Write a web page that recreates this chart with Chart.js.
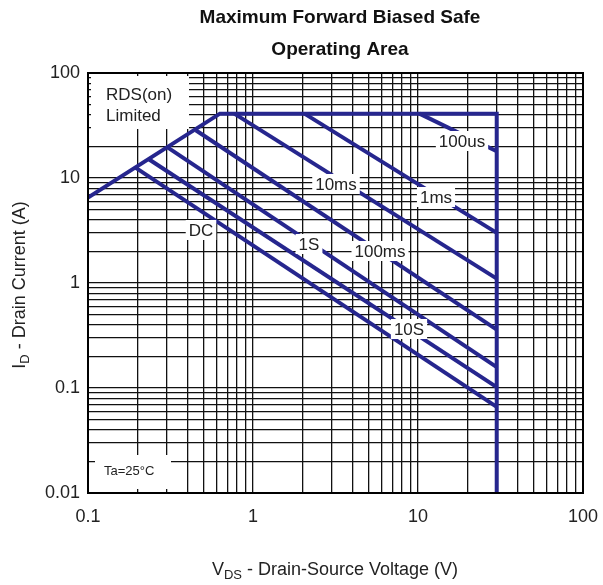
<!DOCTYPE html>
<html>
<head>
<meta charset="utf-8">
<script src="https://cdn.jsdelivr.net/npm/chart.js@4.4.1/dist/chart.umd.min.js"></script>
<style>
  body { margin: 0; background: #fff; }
  #wrap { width: 603px; height: 585px; }
</style>
</head>
<body>
<div id="wrap"><canvas id="chart"></canvas></div>
<script>
// ---- data ----
const xTickValues = [0.1, 1, 10, 100];
const xTickLabels = ["0.1", "1", "10", "100"];
const yTickValues = [0.01, 0.1, 1, 10, 100];
const yTickLabels = ["0.01", "0.1", "1", "10", "100"];
const gridSteps = [1, 2, 3, 4, 5, 6, 7, 8, 9];

// outer limit: RDS(on) slope, current limit, voltage limit
const limitV = [0.1, 0.63, 30, 30];
const limitI = [6.5, 41, 41, 0.01];

// pulse lines
const pulseNames = ["100us", "1ms", "10ms", "100ms", "1S", "10S", "DC"];
const pulseStartV = [10.2, 2.05, 0.77, 0.45, 0.305, 0.235, 0.195];
const pulseStartI = [41, 41, 41, 28.5, 19.5, 15, 12.5];
const pulseEndV = [30, 30, 30, 30, 30, 30, 30];
const pulseEndI = [18, 3.0, 1.1, 0.36, 0.158, 0.102, 0.066];

// where the labels sit (pixels on the page)
const labelX = [462, 436, 336, 380, 309, 409, 201];
const labelY = [141, 197, 184, 251, 244, 329, 230];

const blue = "#26268e";
const font = "'Liberation Sans', Arial";

function gridTicks(min, max) {
  const out = [];
  for (let e = Math.round(Math.log10(min)); e < Math.round(Math.log10(max)); e++) {
    gridSteps.forEach((s) => out.push({ value: s * Math.pow(10, e) }));
  }
  out.push({ value: max });
  return out;
}

const datasets = [
  {
    data: limitV.map((v, i) => ({ x: v, y: limitI[i] })),
  },
];
pulseNames.forEach((name, i) => {
  datasets.push({
    label: name,
    data: [
      { x: pulseStartV[i], y: pulseStartI[i] },
      { x: pulseEndV[i], y: pulseEndI[i] },
    ],
  });
});
datasets.forEach((d) => {
  d.showLine = true;
  d.borderColor = blue;
  d.borderWidth = 4;
  d.pointRadius = 0;
  d.borderJoinStyle = "miter";
});

function box(ctx, x, y, w, h) {
  ctx.fillStyle = "#fff";
  ctx.fillRect(x, y, w, h);
}

// draw text with a subscript: main, sub, rest
function subText(ctx, x, y, main, sub, rest, size) {
  const small = Math.round(size * 0.72);
  ctx.font = size + "px " + font;
  const w1 = ctx.measureText(main).width;
  const w3 = ctx.measureText(rest).width;
  ctx.font = small + "px " + font;
  const w2 = ctx.measureText(sub).width;
  const left = x - (w1 + w2 + w3) / 2;
  ctx.textAlign = "left";
  ctx.textBaseline = "middle";
  ctx.font = size + "px " + font;
  ctx.fillText(main, left, y);
  ctx.fillText(rest, left + w1 + w2, y);
  ctx.font = small + "px " + font;
  ctx.fillText(sub, left + w1, y + 5);
}

const extras = {
  id: "extras",
  afterDatasetsDraw(chart) {
    const ctx = chart.ctx;
    const a = chart.chartArea;
    ctx.save();

    // RDS(on) Limited box
    box(ctx, a.left + 3, a.top + 3, 98, 53);
    ctx.fillStyle = "#222";
    ctx.font = "17px " + font;
    ctx.textAlign = "left";
    ctx.textBaseline = "middle";
    ctx.fillText("RDS(on)", 106, 95);
    ctx.fillText("Limited", 106, 116);

    // Ta box
    box(ctx, 95, 455, 76, 34);
    ctx.fillStyle = "#222";
    ctx.font = "13px " + font;
    ctx.fillText("Ta=25°C", 104, 471);

    // pulse labels
    ctx.font = "17px " + font;
    ctx.textAlign = "center";
    pulseNames.forEach((name, i) => {
      const w = ctx.measureText(name).width;
      box(ctx, labelX[i] - w / 2 - 3, labelY[i] - 10, w + 6, 20);
      ctx.fillStyle = "#222";
      ctx.fillText(name, labelX[i], labelY[i] + 1);
    });

    // frame
    ctx.strokeStyle = "#000";
    ctx.lineWidth = 2;
    ctx.strokeRect(a.left, a.top, a.right - a.left, a.bottom - a.top);

    // title
    ctx.fillStyle = "#111";
    ctx.font = "bold 19px " + font;
    ctx.textAlign = "center";
    ctx.fillText("Maximum Forward Biased Safe", 340, 18);
    ctx.fillText("Operating Area", 340, 50);

    // axis titles
    ctx.fillStyle = "#222";
    subText(ctx, 335, 570, "V", "DS", " - Drain-Source Voltage (V)", 18);
    ctx.translate(20, 285);
    ctx.rotate(-Math.PI / 2);
    subText(ctx, 0, 0, "I", "D", " - Drain Current (A)", 18);
    ctx.restore();
  },
};

new Chart(document.getElementById("chart"), {
  type: "scatter",
  data: { datasets },
  plugins: [extras],
  options: {
    responsive: true,
    maintainAspectRatio: false,
    animation: false,
    layout: { padding: { top: 73, right: 20, left: 0, bottom: 0 } },
    plugins: { legend: { display: false }, tooltip: { enabled: false } },
    scales: {
      x: {
        type: "logarithmic",
        min: 0.1,
        max: 100,
        afterBuildTicks: (axis) => { axis.ticks = gridTicks(0.1, 100); },
        afterFit: (axis) => {
          axis.height = 92;
          axis.paddingRight = 0;
          axis.paddingLeft = 0;
        },
        grid: { color: "#111", lineWidth: 1.3, drawTicks: false },
        border: { color: "#000", width: 2 },
        ticks: {
          autoSkip: false,
          maxRotation: 0,
          padding: 13,
          color: "#222",
          font: { family: font, size: 18 },
          callback: (v) => {
            const k = xTickValues.findIndex((t) => Math.abs(t - v) < t * 1e-6);
            return k >= 0 ? xTickLabels[k] : "";
          },
        },
      },
      y: {
        type: "logarithmic",
        min: 0.01,
        max: 100,
        afterBuildTicks: (axis) => { axis.ticks = gridTicks(0.01, 100); },
        afterFit: (axis) => { axis.width = 88; },
        grid: { color: "#111", lineWidth: 1.3, drawTicks: false },
        border: { color: "#000", width: 2 },
        ticks: {
          autoSkip: false,
          padding: 8,
          color: "#222",
          font: { family: font, size: 18 },
          callback: (v) => {
            const k = yTickValues.findIndex((t) => Math.abs(t - v) < t * 1e-6);
            return k >= 0 ? yTickLabels[k] : "";
          },
        },
      },
    },
  },
});
</script>
</body>
</html>
